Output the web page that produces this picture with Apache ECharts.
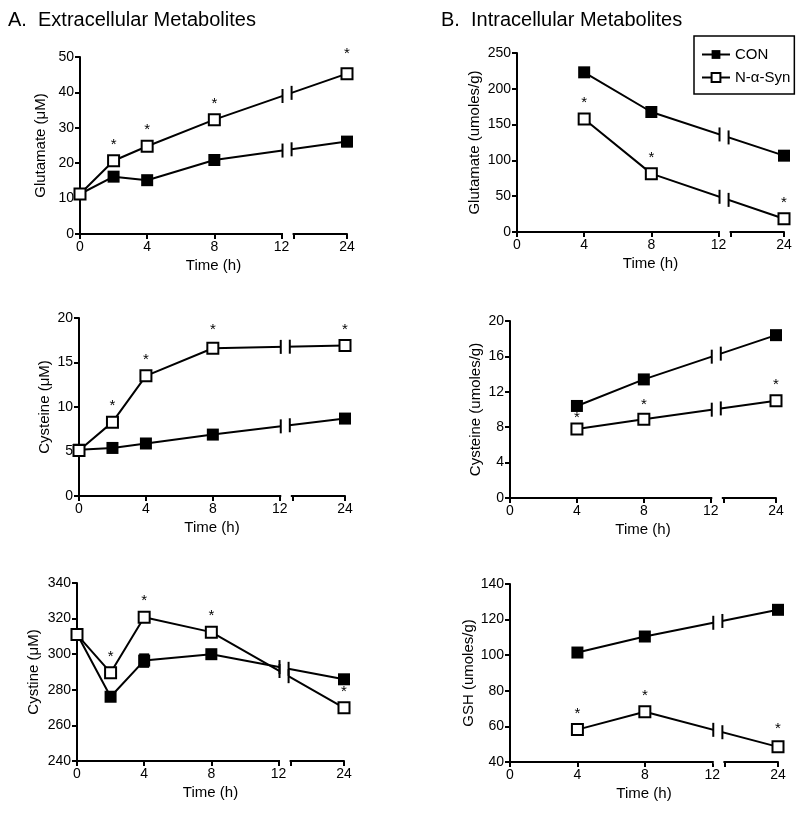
<!DOCTYPE html>
<html>
<head>
<meta charset="utf-8">
<script src="https://cdn.jsdelivr.net/npm/echarts@6/dist/echarts.min.js"></script>
<style>
  html, body { margin: 0; padding: 0; background: #fff; }
  #chart { width: 800px; height: 814px; }
</style>
</head>
<body>
<div id="chart"></div>
<script>
// time points (h)
const timeA = [0, 2, 4, 8, 24];
const timeB = [4, 8, 24];
const xTickLabels = [0, 4, 8, 12, 24];

// A. extracellular (uM)
const gluExtCon = [11.3, 16.2, 15.2, 20.9, 26.1];
const gluExtSyn = [11.3, 20.7, 24.8, 32.3, 45.3];
const gluExtConErr = [0, 0, 0, 0, 1.3];
const gluExtSynErr = [0, 0, 0, 0, 1.2];
const gluExtSig = [0, 1, 1, 1, 1];

const cysExtCon = [5.2, 5.4, 5.9, 6.9, 8.7];
const cysExtSyn = [5.1, 8.3, 13.5, 16.6, 16.9];
const cysExtConErr = [0, 0, 0, 0, 0];
const cysExtSynErr = [0, 0, 0, 0.2, 0];
const cysExtSig = [0, 1, 1, 1, 1];

const cystExtCon = [311.3, 276.1, 296.4, 300.0, 285.9];
const cystExtSyn = [311.0, 289.6, 320.8, 312.4, 269.9];
const cystExtConErr = [0, 0, 3.5, 0, 0];
const cystExtSynErr = [0, 0, 0, 0, 0];
const cystExtSig = [0, 1, 1, 1, 1];

// B. intracellular (umoles/g)
const gluIntCon = [223, 167.6, 106.6];
const gluIntSyn = [157.8, 81.5, 18.6];
const gluIntConErr = [0, 0, 0];
const gluIntSynErr = [0, 0, 0];
const gluIntSig = [1, 1, 1];

const cysIntCon = [10.4, 13.4, 18.4];
const cysIntSyn = [7.8, 8.9, 11.0];
const cysIntConErr = [0, 0, 0];
const cysIntSynErr = [0, 0, 0.5];
const cysIntSig = [1, 1, 1];

const gshIntCon = [101.5, 110.5, 125.5];
const gshIntSyn = [58.2, 68.2, 48.5];
const gshIntConErr = [0, 0, 0];
const gshIntSynErr = [0, 0, 0];
const gshIntSig = [1, 1, 1];

// broken x axis: 0-12 linear, then 24 placed just after the break
const X24 = 15.9;
const X_RESTART = 12.75;
const pos = t => (t === 24 ? X24 : t);

const panels = [
  { rect: [80, 57, 267, 177], min: 0, max: 50, interval: 10, yName: 'Glutamate (μM)', nameGap: 32,
    time: timeA, con: gluExtCon, syn: gluExtSyn, conErr: gluExtConErr, synErr: gluExtSynErr, sig: gluExtSig, starGap: [2, 2, 2, 2, 6] },
  { rect: [79, 318, 266, 178], min: 0, max: 20, interval: 5, yName: 'Cysteine (μM)', nameGap: 27,
    time: timeA, con: cysExtCon, syn: cysExtSyn, conErr: cysExtConErr, synErr: cysExtSynErr, sig: cysExtSig, starGap: [2, 2, 2, 4, 2] },
  { rect: [77, 583, 267, 178], min: 240, max: 340, interval: 20, yName: 'Cystine (μM)', nameGap: 36,
    time: timeA, con: cystExtCon, syn: cystExtSyn, conErr: cystExtConErr, synErr: cystExtSynErr, sig: cystExtSig, starGap: [2, 2, 2, 2, 2] },
  { rect: [517, 53, 267, 179], min: 0, max: 250, interval: 50, yName: 'Glutamate (umoles/g)', nameGap: 35,
    time: timeB, con: gluIntCon, syn: gluIntSyn, conErr: gluIntConErr, synErr: gluIntSynErr, sig: gluIntSig, starGap: [2, 2, 2] },
  { rect: [510, 321, 266, 177], min: 0, max: 20, interval: 4, yName: 'Cysteine (umoles/g)', nameGap: 27,
    time: timeB, con: cysIntCon, syn: cysIntSyn, conErr: cysIntConErr, synErr: cysIntSynErr, sig: cysIntSig, starGap: [-3, 0, 2] },
  { rect: [510, 584, 268, 178], min: 40, max: 140, interval: 20, yName: 'GSH (umoles/g)', nameGap: 27,
    time: timeB, con: gshIntCon, syn: gshIntSyn, conErr: gshIntConErr, synErr: gshIntSynErr, sig: gshIntSig, starGap: [2, 2, 4] }
];

const black = '#000';
const font = 'Liberation Sans, Arial, Helvetica, sans-serif';

const grids = [], xAxes = [], yAxes = [], series = [];

function errorSeries(i, time, vals, err) {
  const data = [];
  time.forEach((t, k) => { if (err[k] > 0) data.push([pos(t), vals[k], err[k]]); });
  return {
    type: 'custom', xAxisIndex: i, yAxisIndex: i, z: 1, silent: true,
    data: data,
    renderItem: function (params, api) {
      const hi = api.coord([api.value(0), api.value(1) + api.value(2)]);
      const lo = api.coord([api.value(0), api.value(1) - api.value(2)]);
      return {
        type: 'group',
        children: [
          { type: 'line', shape: { x1: hi[0], y1: hi[1], x2: lo[0], y2: lo[1] }, style: { stroke: black, lineWidth: 2 } },
          { type: 'line', shape: { x1: hi[0] - 5, y1: hi[1], x2: hi[0] + 5, y2: hi[1] }, style: { stroke: black, lineWidth: 2 } },
          { type: 'line', shape: { x1: lo[0] - 5, y1: lo[1], x2: lo[0] + 5, y2: lo[1] }, style: { stroke: black, lineWidth: 2 } }
        ]
      };
    }
  };
}

panels.forEach((p, i) => {
  grids.push({ left: p.rect[0], top: p.rect[1], width: p.rect[2], height: p.rect[3] });
  xAxes.push({
    type: 'value', gridIndex: i, min: 0, max: X24,
    axisLine: { show: true, onZero: false, lineStyle: { color: black, width: 2 } },
    axisTick: { show: true, customValues: [0, 4, 8, 12, X_RESTART, X24], length: 5, lineStyle: { color: black, width: 2 } },
    axisLabel: {
      customValues: xTickLabels.map(pos), fontSize: 14, color: black, margin: 6, fontFamily: font,
      formatter: v => (Math.abs(v - X24) < 1e-6 ? '24' : String(v))
    },
    splitLine: { show: false },
    name: 'Time (h)', nameLocation: 'middle', nameGap: 24,
    nameTextStyle: { fontSize: 15, color: black, fontFamily: font }
  });
  yAxes.push({
    type: 'value', gridIndex: i, min: p.min, max: p.max, interval: p.interval,
    axisLine: { show: true, onZero: false, lineStyle: { color: black, width: 2 } },
    axisTick: { show: true, length: 5, lineStyle: { color: black, width: 2 } },
    axisLabel: { fontSize: 14, color: black, margin: 6, fontFamily: font },
    splitLine: { show: false },
    name: p.yName, nameLocation: 'middle', nameRotate: 90, nameGap: p.nameGap,
    nameTextStyle: { fontSize: 15, color: black, fontFamily: font }
  });

  series.push(errorSeries(i, p.time, p.con, p.conErr));
  series.push(errorSeries(i, p.time, p.syn, p.synErr));

  series.push({
    type: 'line', name: 'CON', xAxisIndex: i, yAxisIndex: i, clip: false, z: 3,
    data: p.time.map((t, k) => [pos(t), p.con[k]]),
    symbol: 'rect', symbolSize: 12, showAllSymbol: true,
    lineStyle: { color: black, width: 2 },
    itemStyle: { color: black, borderColor: black, borderWidth: 0 }
  });
  series.push({
    type: 'line', name: 'N-α-Syn', xAxisIndex: i, yAxisIndex: i, clip: false, z: 4,
    data: p.time.map((t, k) => ({
      value: [pos(t), p.syn[k]],
      label: { show: !!p.sig[k], distance: p.starGap[k] }
    })),
    symbol: 'rect', symbolSize: 11, showAllSymbol: true,
    lineStyle: { color: black, width: 2 },
    itemStyle: { color: '#fff', borderColor: black, borderWidth: 2 },
    label: { show: false, formatter: '*', position: 'top', distance: 2, fontSize: 15, color: black, fontFamily: font }
  });
});

const chart = echarts.init(document.getElementById('chart'), null, { renderer: 'canvas' });
chart.setOption({
  animation: false,
  backgroundColor: '#fff',
  textStyle: { fontFamily: font, color: black },
  title: [
    { text: 'A.  Extracellular Metabolites', left: 8, top: 10, padding: 0, textStyle: { fontSize: 20, fontWeight: 'normal', color: black, fontFamily: font } },
    { text: 'B.  Intracellular Metabolites', left: 441, top: 10, padding: 0, textStyle: { fontSize: 20, fontWeight: 'normal', color: black, fontFamily: font } }
  ],
  legend: {
    data: ['CON', 'N-α-Syn'], orient: 'vertical', left: 694, top: 36,
    selectedMode: false, itemWidth: 28, itemHeight: 11, itemGap: 8,
    padding: [11, 4, 9, 7], borderColor: black, borderWidth: 1.5,
    textStyle: { fontSize: 15, color: black, fontFamily: font }
  },
  grid: grids,
  xAxis: xAxes,
  yAxis: yAxes,
  series: series
});

// draw the axis breaks and the breaks on the data lines
const elems = [];
const B1 = 12.06, B2 = 12.6;
panels.forEach((p, i) => {
  const g = { gridIndex: i };
  const a0 = chart.convertToPixel(g, [12, p.min]);
  const a1 = chart.convertToPixel(g, [X_RESTART, p.min]);
  elems.push({ type: 'rect', z: 50, shape: { x: a0[0] + 1.5, y: a0[1] - 2, width: a1[0] - a0[0] - 3, height: 4 }, style: { fill: '#fff' } });
  [p.con, p.syn].forEach(vals => {
    const k8 = p.time.indexOf(8), k24 = p.time.indexOf(24);
    const q1 = chart.convertToPixel(g, [8, vals[k8]]);
    const q2 = chart.convertToPixel(g, [X24, vals[k24]]);
    const at = bx => {
      const x = chart.convertToPixel(g, [bx, p.min])[0];
      return [x, q1[1] + (q2[1] - q1[1]) * (x - q1[0]) / (q2[0] - q1[0])];
    };
    const c1 = at(B1), c2 = at(B2);
    elems.push({ type: 'line', z: 50, shape: { x1: c1[0], y1: c1[1], x2: c2[0], y2: c2[1] }, style: { stroke: '#fff', lineWidth: 5 } });
    [c1, c2].forEach(c => {
      elems.push({ type: 'line', z: 51, shape: { x1: c[0], y1: c[1] - 7, x2: c[0], y2: c[1] + 7 }, style: { stroke: black, lineWidth: 2 } });
    });
  });
});
chart.setOption({ graphic: elems });
</script>
</body>
</html>
